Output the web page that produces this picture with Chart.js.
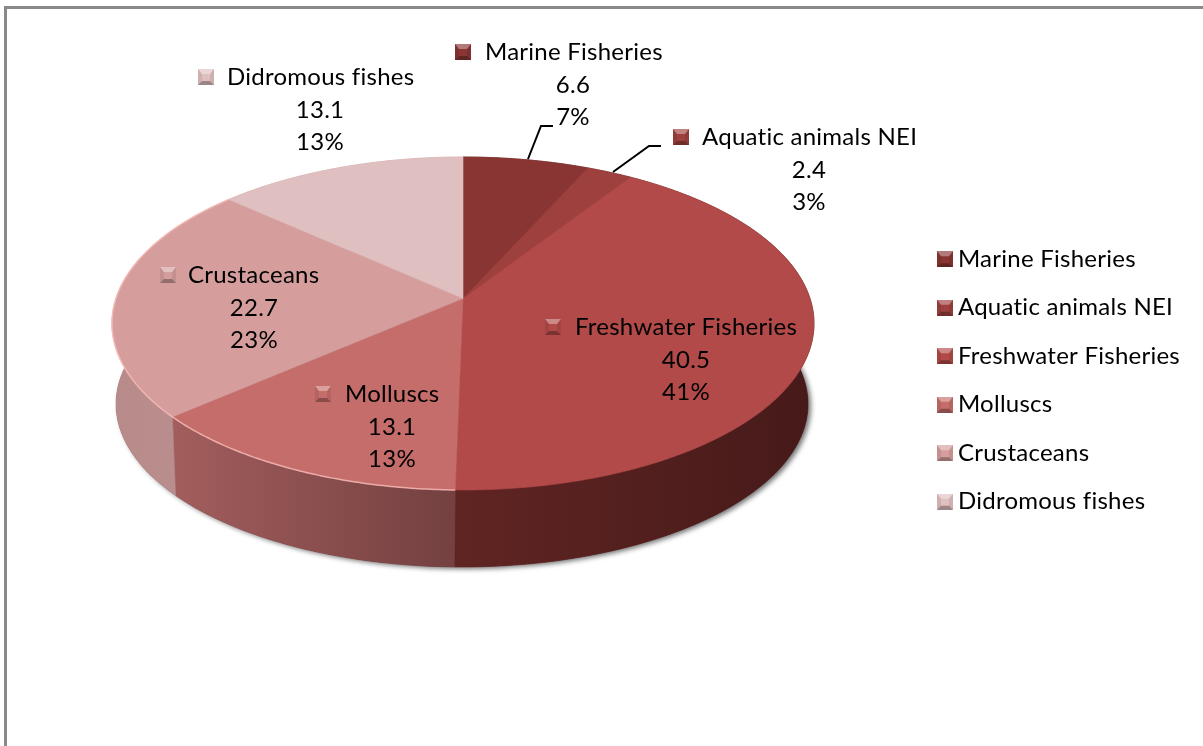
<!DOCTYPE html>
<html>
<head>
<meta charset="utf-8">
<title>Fish production by group</title>
<script src="https://cdn.jsdelivr.net/npm/chart.js@4"></script>
<style>
  html, body { margin: 0; padding: 0; background: #fff; }
  canvas { display: block; }
</style>
</head>
<body>
<canvas id="pieChart" width="1203" height="746"></canvas>
<script>
// Chart data
const categories = ['Marine Fisheries', 'Aquatic animals NEI', 'Freshwater Fisheries', 'Molluscs', 'Crustaceans', 'Didromous fishes'];
const values = [6.6, 2.4, 40.5, 13.1, 22.7, 13.1];
const percentLabels = ['7%', '3%', '41%', '13%', '23%', '13%'];

// Colours
const topColors = ['#893533', '#9e403d', '#b14a48', '#c56d6b', '#d59e9d', '#e0bfc0'];
const wallColors = [['#5a2221', '#5a2221'], ['#5a2221', '#5a2221'], ['#602523', '#461a19'], ['#a25e5d', '#744040'], ['#b88b8b', '#bc9090'], ['#c9a5a5', '#c9a5a5']];

// Label block for each slice: marker x, text x, first line y, centre x of the two lower lines
const labelSpots = [
    { mx: 463, tx: 485, y: 52, cx: 573 },
    { mx: 681, tx: 702, y: 137, cx: 809 },
    { mx: 553, tx: 575, y: 327, cx: 686 },
    { mx: 323, tx: 345, y: 394, cx: 392 },
    { mx: 168, tx: 188, y: 275, cx: 254 },
    { mx: 206, tx: 227, y: 77, cx: 320 }
];
const leaderLines = [
    [[528, 159], [541, 126], [553, 126]],
    [[613, 172], [649, 146], [661, 146]]
];

// Look of the tilted pie
const topFace = { cx: 463, cy: 323.5, rx: 351, ry: 166.5 };
const bottomFace = { cx: 462, cy: 404, rx: 346, ry: 163 };
const TILT = -0.15;
const FONT = '24px Lato, Carlito, sans-serif';
const LETTER_SPACING = '0.25px';

// Map a pie angle to a point on an ellipse, with the far side squeezed by the perspective
function rimPoint(face, angle) {
    const u = Math.cos(angle);
    const v = Math.sin(angle);
    const d = 1 + TILT * v;
    return {
        x: face.cx + face.rx * u * Math.sqrt(1 - TILT * TILT) / d,
        y: face.cy + face.ry * (v + TILT) / d
    };
}

function rimPoints(face, start, end) {
    const pts = [];
    const steps = Math.max(4, Math.ceil((end - start) / 0.01));
    for (let i = 0; i <= steps; i++) {
        pts.push(rimPoint(face, start + (end - start) * i / steps));
    }
    return pts;
}

// Bevelled square used in the legend and next to the data labels
function makeMarker(color) {
    const size = 16;
    const c = document.createElement('canvas');
    c.width = size;
    c.height = size;
    const g = c.getContext('2d');
    const faces = [
        ['#ffffff', 0.35, [[0, 0], [size, 0], [size - 4, 5], [4, 5]]],
        ['#000000', 0.3, [[0, size], [size, size], [size - 4, size - 4], [4, size - 4]]],
        ['#000000', 0.08, [[0, 0], [4, 5], [4, size - 4], [0, size]]],
        ['#000000', 0.08, [[size, 0], [size - 4, 5], [size - 4, size - 4], [size, size]]]
    ];
    g.fillStyle = color;
    g.fillRect(0, 0, size, size);
    faces.forEach(([fill, alpha, pts]) => {
        g.globalAlpha = alpha;
        g.fillStyle = fill;
        g.beginPath();
        pts.forEach((p, i) => i ? g.lineTo(p[0], p[1]) : g.moveTo(p[0], p[1]));
        g.closePath();
        g.fill();
    });
    return c;
}

const markers = topColors.map(c => makeMarker(c));

// Draws the slices as a 3D disc from the arc angles the pie controller worked out
const tiltedPie = {
    id: 'tiltedPie',
    beforeDatasetDraw(chart) {
        const ctx = chart.ctx;
        const arcs = chart.getDatasetMeta(0).data;
        ctx.save();

        // Soft shadow under the disc
        ctx.save();
        ctx.shadowColor = 'rgba(0, 0, 0, 0.55)';
        ctx.shadowBlur = 5;
        ctx.shadowOffsetX = 3;
        ctx.shadowOffsetY = 2;
        ctx.fillStyle = '#5a2221';
        ctx.beginPath();
        ctx.ellipse(bottomFace.cx, bottomFace.cy, bottomFace.rx, bottomFace.ry, 0, 0, Math.PI * 2);
        ctx.fill();
        ctx.restore();

        // Side walls
        arcs.forEach((arc, i) => {
            const top = rimPoints(topFace, arc.startAngle, arc.endAngle);
            const bottom = rimPoints(bottomFace, arc.startAngle, arc.endAngle).reverse();
            const outline = top.concat(bottom);
            const xs = outline.map(p => p.x);
            const grad = ctx.createLinearGradient(Math.min(...xs), 0, Math.max(...xs), 0);
            grad.addColorStop(0, wallColors[i][0]);
            grad.addColorStop(1, wallColors[i][1]);
            ctx.fillStyle = grad;
            ctx.strokeStyle = grad;
            ctx.lineWidth = 0.6;
            ctx.beginPath();
            outline.forEach((p, j) => j ? ctx.lineTo(p.x, p.y) : ctx.moveTo(p.x, p.y));
            ctx.closePath();
            ctx.fill();
            ctx.stroke();
        });

        // Top face
        const apexX = topFace.cx;
        const apexY = topFace.cy + topFace.ry * TILT;
        arcs.forEach((arc, i) => {
            ctx.fillStyle = topColors[i];
            ctx.strokeStyle = topColors[i];
            ctx.lineWidth = 0.6;
            ctx.beginPath();
            ctx.moveTo(apexX, apexY);
            rimPoints(topFace, arc.startAngle, arc.endAngle).forEach(p => ctx.lineTo(p.x, p.y));
            ctx.closePath();
            ctx.fill();
            ctx.stroke();
        });

        // Light rim along the front of the pale slices
        arcs.forEach((arc, i) => {
            if (i !== 3 && i !== 4) return;
            ctx.strokeStyle = 'rgba(250, 190, 188, 0.8)';
            ctx.lineWidth = 1.5;
            ctx.beginPath();
            rimPoints(topFace, arc.startAngle, arc.endAngle).forEach((p, j) => j ? ctx.lineTo(p.x, p.y) : ctx.moveTo(p.x, p.y));
            ctx.stroke();
        });

        ctx.restore();
        return false;
    },
    afterDatasetsDraw(chart) {
        const ctx = chart.ctx;
        ctx.save();

        // Leader lines
        ctx.strokeStyle = '#000';
        ctx.lineWidth = 2;
        leaderLines.forEach(line => {
            ctx.beginPath();
            line.forEach((p, i) => i ? ctx.lineTo(p[0], p[1]) : ctx.moveTo(p[0], p[1]));
            ctx.stroke();
        });

        // Data labels
        ctx.font = FONT;
        ctx.fillStyle = '#000';
        ctx.textBaseline = 'middle';
        categories.forEach((name, i) => {
            const spot = labelSpots[i];
            ctx.drawImage(markers[i], spot.mx - 8, spot.y - 8);
            ctx.textAlign = 'left';
            ctx.fillText(name, spot.tx, spot.y);
            ctx.textAlign = 'center';
            ctx.fillText(String(values[i]), spot.cx, spot.y + 33);
            ctx.fillText(percentLabels[i], spot.cx, spot.y + 65);
        });
        ctx.restore();
    }
};

// Grey frame of the original sheet, open on the right and at the bottom
const sheetFrame = {
    id: 'sheetFrame',
    beforeLayout(chart) {
        chart.ctx.letterSpacing = LETTER_SPACING;
    },
    beforeDraw(chart) {
        const ctx = chart.ctx;
        ctx.letterSpacing = LETTER_SPACING;
        ctx.save();
        ctx.fillStyle = '#fff';
        ctx.fillRect(0, 0, chart.width, chart.height);
        ctx.strokeStyle = '#8a8a8a';
        ctx.lineWidth = 3;
        ctx.beginPath();
        ctx.moveTo(5.5, 746);
        ctx.lineTo(5.5, 7.5);
        ctx.lineTo(1203, 7.5);
        ctx.stroke();
        ctx.restore();
    }
};

new Chart(document.getElementById('pieChart').getContext('2d'), {
    type: 'pie',
    data: {
        labels: categories,
        datasets: [{ data: values, backgroundColor: topColors, borderWidth: 0 }]
    },
    options: {
        responsive: false,
        animation: false,
        layout: { padding: { right: 13, top: 15 } },
        plugins: {
            tooltip: { enabled: false },
            legend: {
                position: 'right',
                labels: {
                    usePointStyle: true,
                    font: { family: 'Lato', size: 24 },
                    color: '#000',
                    padding: 24.5,
                    boxWidth: 2,
                    boxHeight: 16,
                    generateLabels: () => categories.map((name, i) => ({
                        text: name,
                        pointStyle: markers[i],
                        fillStyle: topColors[i],
                        strokeStyle: topColors[i],
                        lineWidth: 0,
                        index: i
                    }))
                }
            }
        }
    },
    plugins: [sheetFrame, tiltedPie]
});
</script>
</body>
</html>
